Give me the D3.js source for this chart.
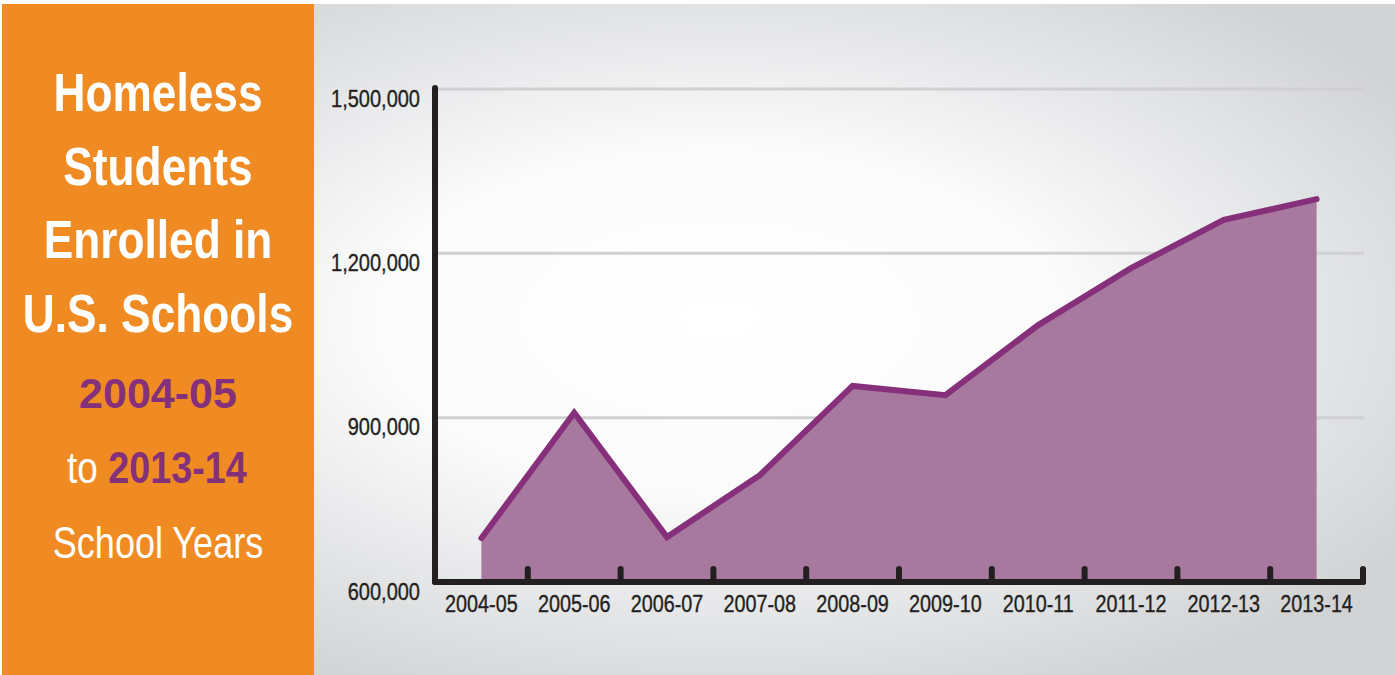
<!DOCTYPE html>
<html>
<head>
<meta charset="utf-8">
<script src="https://cdn.jsdelivr.net/npm/d3@7/dist/d3.min.js"></script>
<style>
  html, body { margin: 0; padding: 0; background: #ffffff; }
  svg { display: block; }
</style>
</head>
<body>
<svg id="chart" width="1395" height="675"></svg>
<script>
// ---- data ----
const categories = ["2004-05","2005-06","2006-07","2007-08","2008-09","2009-10","2010-11","2011-12","2012-13","2013-14"];
const students = [680000, 909000, 682000, 795000, 958000, 941000, 1069000, 1173000, 1261000, 1299000];
const yTicks = [600000, 900000, 1200000, 1500000];
const titleLines = ["Homeless", "Students", "Enrolled in", "U.S. Schools"];
const startYear = "2004-05";
const endYear = "2013-14";
const subtitle = "School Years";

const svg = d3.select("#chart");
const W = 1395, H = 675;

// ---- background ----
const defs = svg.append("defs");
const rg = defs.append("radialGradient")
  .attr("id", "bg").attr("gradientUnits", "userSpaceOnUse")
  .attr("cx", 720).attr("cy", 320).attr("r", 820)
  .attr("gradientTransform", "translate(720,320) scale(1,0.5) translate(-720,-320)");
rg.append("stop").attr("offset", 0).attr("stop-color", "#ffffff");
rg.append("stop").attr("offset", 0.42).attr("stop-color", "#fbfbfb");
rg.append("stop").attr("offset", 0.72).attr("stop-color", "#e5e6e8");
rg.append("stop").attr("offset", 1).attr("stop-color", "#d2d3d5");

svg.append("rect").attr("x", 314).attr("y", 4).attr("width", W - 314).attr("height", H - 4)
  .attr("fill", "url(#bg)");
svg.append("rect").attr("x", 2).attr("y", 4).attr("width", 312).attr("height", H - 4)
  .attr("fill", "#ef8b22");

// ---- title panel ----
const sans = "'Liberation Sans', Arial, Helvetica, sans-serif";
const cx = 158;
const title = svg.append("g").attr("class", "title");
title.selectAll("g.t").data(titleLines).join("g")
  .attr("class", "t")
  .attr("transform", (d, i) => `translate(${cx},${111 + i * 73.5}) scale(0.82,1)`)
  .append("text")
  .attr("text-anchor", "middle")
  .attr("font-family", sans).attr("font-weight", "bold").attr("font-size", 54)
  .attr("fill", "#ffffff").text(d => d);

title.append("text").attr("x", cx).attr("y", 408)
  .attr("text-anchor", "middle")
  .attr("font-family", sans).attr("font-weight", "bold").attr("font-size", 43)
  .attr("fill", "#84307a").text(startYear);

const toLine = title.append("g").attr("transform", `translate(${cx - 1},483) scale(0.84,1)`)
  .append("text").attr("text-anchor", "middle");
toLine.append("tspan").attr("font-family", sans).attr("font-size", 44)
  .attr("fill", "#ffffff").text("to ");
toLine.append("tspan").attr("font-family", sans).attr("font-weight", "bold").attr("font-size", 45)
  .attr("fill", "#84307a").text(endYear);

title.append("g").attr("transform", `translate(${cx},558) scale(0.82,1)`)
  .append("text")
  .attr("text-anchor", "middle")
  .attr("font-family", sans).attr("font-size", 44)
  .attr("fill", "#ffffff").text(subtitle);

// ---- scales ----
const x = d3.scaleBand().domain(categories).range([435, 1363]).padding(0);
const y = d3.scaleLinear().domain([600000, 1500000]).range([582, 89]);
const cxOf = d => x(d) + x.bandwidth() / 2;

// ---- gridlines ----
svg.append("g").selectAll("line").data(yTicks.filter(v => v > 600000)).join("line")
  .attr("x1", 436).attr("x2", 1364)
  .attr("y1", d => y(d)).attr("y2", d => y(d))
  .attr("stroke", "#cfd0d2").attr("stroke-width", 3);

// ---- area + line ----
const pts = categories.map((c, i) => ({ c, v: students[i] }));
svg.append("path").datum(pts)
  .attr("d", d3.area().x(d => cxOf(d.c)).y0(y(600000)).y1(d => y(d.v)))
  .attr("fill", "#a8799f");
svg.append("path").datum(pts)
  .attr("d", d3.line().x(d => cxOf(d.c)).y(d => y(d.v)))
  .attr("fill", "none").attr("stroke", "#86307b").attr("stroke-width", 6)
  .attr("stroke-linejoin", "miter").attr("stroke-linecap", "round");

// ---- axes ----
const axisColor = "#231f20";
const xAxis = svg.append("g").attr("transform", `translate(0,${y(600000) + 8})`)
  .call(d3.axisBottom(x).tickSize(0).tickPadding(0));
xAxis.select(".domain").remove();
xAxis.selectAll("text")
  .attr("font-family", sans).attr("font-size", 23)
  .attr("transform", "scale(0.86,1)")
  .attr("fill", axisColor).attr("stroke", axisColor).attr("stroke-width", 0.35)
  .attr("dy", "0.95em");

const yAxis = svg.append("g").attr("transform", "translate(420,0)")
  .call(d3.axisLeft(y).tickValues(yTicks).tickFormat(d3.format(",")).tickSize(0).tickPadding(0));
yAxis.select(".domain").remove();
yAxis.selectAll("text")
  .attr("font-family", sans).attr("font-size", 23)
  .attr("transform", "scale(0.87,1)")
  .attr("fill", axisColor).attr("stroke", axisColor).attr("stroke-width", 0.35)
  .attr("dy", 17);

// tick marks at band boundaries
svg.append("g").selectAll("line").data(categories).join("line")
  .attr("x1", d => x(d) + x.bandwidth()).attr("x2", d => x(d) + x.bandwidth())
  .attr("y1", y(600000) - 13).attr("y2", y(600000))
  .attr("stroke", axisColor).attr("stroke-width", 6).attr("stroke-linecap", "round");

// axis lines
svg.append("line").attr("x1", 435).attr("x2", 435).attr("y1", y(1500000) - 1).attr("y2", y(600000))
  .attr("stroke", axisColor).attr("stroke-width", 6).attr("stroke-linecap", "round");
svg.append("line").attr("x1", 435).attr("x2", 1363).attr("y1", y(600000)).attr("y2", y(600000))
  .attr("stroke", axisColor).attr("stroke-width", 6).attr("stroke-linecap", "round");
</script>
</body>
</html>
